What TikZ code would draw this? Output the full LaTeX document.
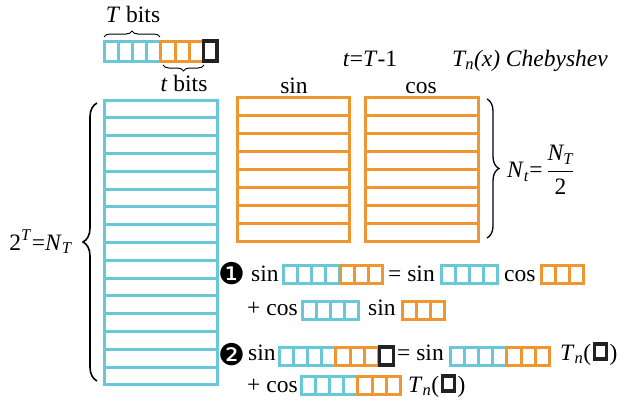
\documentclass[tikz,border=0pt]{standalone}
\usepackage{amsmath}
\usepackage{fontspec}
\setmainfont{Liberation Serif}
\newfontfamily\dingfont{DejaVu Sans}
\usetikzlibrary{decorations.pathreplacing}
\definecolor{bitcyan}{RGB}{104,200,216}
\definecolor{bitorange}{RGB}{240,150,48}
\definecolor{bitblack}{RGB}{34,34,34}
% a row of #4 bit cells of style #1, from (#2,#3) downwards, height #5
\newcommand\bitcells[5]{%
	\foreach \k in {1,...,#4}
		\draw [#1] ({#2+(\k-1)*14.2},#3) rectangle ++(14.2,#5);}
\begin{document}
\begin{tikzpicture}[x=1pt,y=-1pt,
		cb/.style={draw=bitcyan,line width=3pt},
		co/.style={draw=bitorange,line width=3pt},
		ck/.style={draw=bitblack,line width=3.2pt},
		txt/.style={inner sep=0pt,anchor=base west,font=\fontsize{23.5}{28}\selectfont},
		ctxt/.style={txt,anchor=base},
		brc/.style={decorate,decoration={brace,amplitude=#1},line width=1.6pt},
		brc/.default=6]
		\useasboundingbox (0,0) rectangle (625,405);
		% bits word
			\bitcells{cb}{104}{41}{4}{20}
			\bitcells{co}{160.8}{41}{3}{20}
			\draw [ck] (203.4,41) rectangle (217,61);
			\draw [brc,line width=1pt] (104,37) -- (160,37);
			\node [ctxt] (Tbits) at (133,22) {\textit{T} bits};
			\draw [brc,line width=1pt] (204,65) -- (163,65);
			\node [ctxt] (tbits) at (184,91) {\textit{t} bits};
		% headings
			\node [ctxt] (tlast) at (370,66) {\textit{t}=\textit{T}-1};
			\node [ctxt] (cheb) at (530,66) {\textit{T\textsubscript{n}(x) Chebyshev}};
			\node [ctxt] (sinhead) at (294,93) {sin};
			\node [ctxt] (coshead) at (421,93) {cos};
		% tables
			\foreach \i in {0,...,15}
				\draw [cb] (104,{100+\i*17.8}) rectangle ++(113,17.8);
			\foreach \i in {0,...,7} {
				\draw [co] (237,{97+\i*18}) rectangle ++(112,18);
				\draw [co] (365,{97+\i*18}) rectangle ++(113,18);
			}
			\draw [brc=14] (97,381) -- (97,103);
			\node [ctxt] (NT) at (41,250) {2\textsuperscript{\textit{T}}=\textit{N}\textsubscript{\textit{T}}};
			\draw [brc=12,line width=1.3pt] (487,99) -- (487,238);
			\node [txt,anchor=west] (Nt) at (507,170) {\textit{N}\textsubscript{\textit{t}}=\,$\dfrac{\textit{N}_{\textit{T}}}{\text{2}}$};
		% equation 1
			\node [txt,anchor=center,font=\fontsize{30}{32}\selectfont] (one) at (232,274) {\dingfont ❶};
			\node [txt] (s1) at (251,281) {sin};
			\bitcells{cb}{283}{265}{4}{18}
			\bitcells{co}{340}{265}{3}{18}
			\node [txt] (e1) at (388,281) {= sin};
			\bitcells{cb}{441}{265}{4}{18}
			\node [txt] (c1) at (504,281) {cos};
			\bitcells{co}{541}{265}{3}{18}
			\node [txt] (p2) at (247,315) {+ cos};
			\bitcells{cb}{302}{301}{4}{18}
			\node [txt] (s2) at (368,315) {sin};
			\bitcells{co}{402}{301}{3}{18}
		% equation 2
			\node [txt,anchor=center,font=\fontsize{30}{32}\selectfont] (two) at (232,355) {\dingfont ❷};
			\node [txt] (s3) at (248,360) {sin};
			\bitcells{cb}{279}{347}{4}{18}
			\bitcells{co}{335.8}{347}{3}{18}
			\draw [ck] (379.4,347) rectangle ++(14.2,18);
			\node [txt] (e3) at (397,360) {= sin};
			\bitcells{cb}{450}{347}{4}{18}
			\bitcells{co}{506.8}{347}{3}{18}
			\node [txt] (tn3) at (560,360) {\textit{T}\textsubscript{\textit{n}}(};
			\draw [ck] ([xshift=3pt,yshift=1pt]tn3.base east) rectangle ++(12,-15);
			\node [txt] (tn3c) at ([xshift=18pt]tn3.base east) {)};
			\node [txt] (p4) at (247,392) {+ cos};
			\bitcells{cb}{301}{376}{4}{18}
			\bitcells{co}{357.8}{376}{3}{18}
			\node [txt] (tn4) at (408,392) {\textit{T}\textsubscript{\textit{n}}(};
			\draw [ck] ([xshift=3pt,yshift=1pt]tn4.base east) rectangle ++(12,-15);
			\node [txt] (tn4c) at ([xshift=18pt]tn4.base east) {)};
	\end{tikzpicture}
\end{document}
